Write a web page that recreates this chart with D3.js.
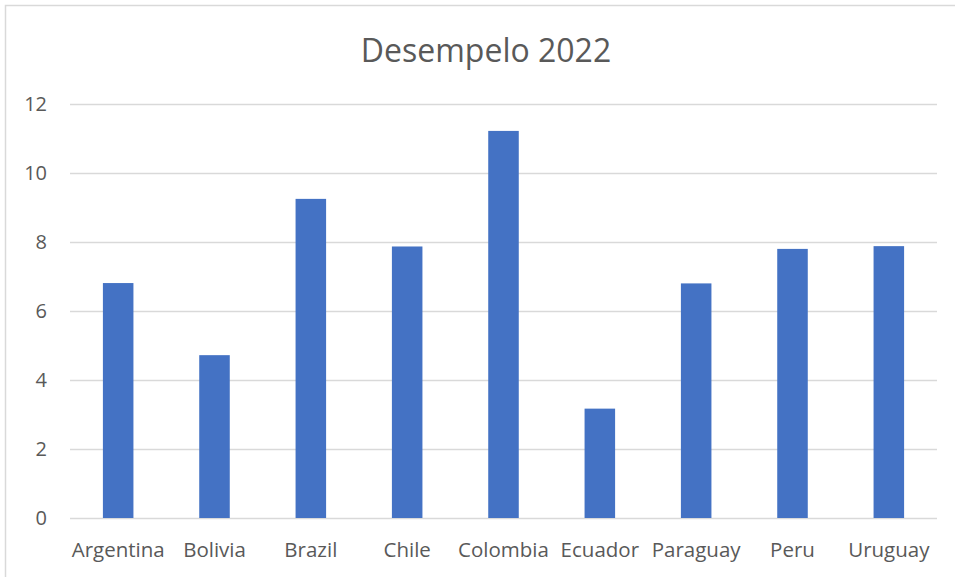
<!DOCTYPE html>
<html>
<head>
<meta charset="utf-8">
<script src="https://cdn.jsdelivr.net/npm/d3@7"></script>
<style>
  body { margin: 0; background: #fff; }
  text { font-family: "Open Sans", sans-serif; fill: #595959; }
</style>
</head>
<body>
<div id="chart"></div>
<script>
const countries = ['Argentina', 'Bolivia', 'Brazil', 'Chile', 'Colombia', 'Ecuador', 'Paraguay', 'Peru', 'Uruguay'];
const scores = [6.81, 4.72, 9.25, 7.87, 11.22, 3.17, 6.8, 7.8, 7.88];
const yTicks = [0, 2, 4, 6, 8, 10, 12];
const title = 'Desempelo 2022';

const width = 955, height = 577;
const margin = {top: 104, right: 18, bottom: 59, left: 70};

const svg = d3.select('#chart').append('svg')
  .attr('width', width)
  .attr('height', height);

// chart frame
svg.append('rect')
  .attr('x', 5.5).attr('y', 5.5)
  .attr('width', width + 10).attr('height', height + 10)
  .attr('fill', 'none')
  .attr('stroke', '#d9d9d9')
  .attr('stroke-width', 1.5);

const x = d3.scaleBand()
  .domain(countries)
  .range([margin.left, width - margin.right])
  .paddingInner(0.683)
  .paddingOuter(0.3415);

const y = d3.scaleLinear()
  .domain([0, 12])
  .range([height - margin.bottom, margin.top]);

// gridlines
svg.append('g')
  .selectAll('line')
  .data(yTicks)
  .join('line')
  .attr('x1', margin.left)
  .attr('x2', width - margin.right)
  .attr('y1', d => y(d) + 0.5)
  .attr('y2', d => y(d) + 0.5)
  .attr('stroke', '#d9d9d9')
  .attr('stroke-width', 1.5);

// bars
svg.append('g')
  .selectAll('rect')
  .data(countries)
  .join('rect')
  .attr('x', d => x(d))
  .attr('width', x.bandwidth())
  .attr('y', (d, i) => y(scores[i]))
  .attr('height', (d, i) => y(0) - y(scores[i]))
  .attr('fill', '#4472c4');

// y labels
svg.append('g')
  .selectAll('text')
  .data(yTicks)
  .join('text')
  .attr('x', 47)
  .attr('y', d => y(d))
  .attr('dy', '0.36em')
  .attr('text-anchor', 'end')
  .style('font-size', '20px')
  .text(d => d);

// x labels
const xAxis = d3.axisBottom(x).tickSize(0).tickPadding(0);
const xg = svg.append('g')
  .attr('transform', `translate(0,${height - margin.bottom})`)
  .call(xAxis);
xg.select('.domain').remove();
xg.selectAll('text')
  .attr('y', 39)
  .attr('dy', 0)
  .style('font-size', '20.5px')
  .style('font-family', '"Open Sans", sans-serif')
  .attr('fill', '#595959');

svg.append('text')
  .attr('x', 486)
  .attr('y', 62)
  .attr('text-anchor', 'middle')
  .style('font-size', '32px')
  .text(title);
</script>
</body>
</html>
